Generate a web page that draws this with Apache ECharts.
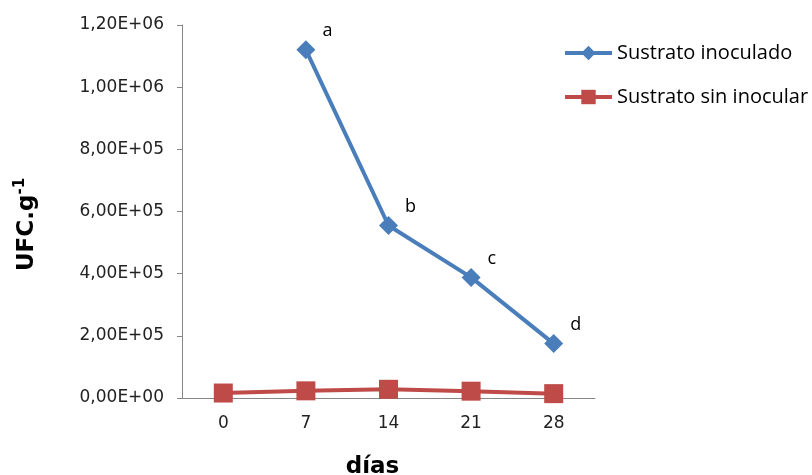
<!DOCTYPE html>
<html><head><meta charset="utf-8">
<script src="https://cdn.jsdelivr.net/npm/echarts@6/dist/echarts.min.js"></script>
<style>html,body{margin:0;padding:0;background:#fff}#c{width:812px;height:475px}</style>
</head><body><div id="c"></div>
<script>
const categories = ['0', '7', '14', '21', '28'];
const inoculado = [null, 1120000, 555000, 388000, 175000];
const sinInocular = [16000, 23000, 28000, 22000, 14000];
const letters = ['', 'a', 'b', 'c', 'd'];
const seriesNames = ['Sustrato inoculado', 'Sustrato sin inocular'];

function fmt(v) {
  if (v === 0) return '0,00E+00';
  const e = Math.floor(Math.log10(Math.abs(v)) + 1e-9);
  const m = v / Math.pow(10, e);
  return m.toFixed(2).replace('.', ',') + 'E+' + String(e).padStart(2, '0');
}

const chart = echarts.init(document.getElementById('c'));
chart.setOption({
  animation: false,
  grid: { left: 182, right: 217, top: 25, bottom: 77, outerBoundsMode: 'none', containLabel: false },
  legend: {
    orient: 'vertical', left: 563, top: 43, padding: 0, itemWidth: 47, itemHeight: 18, itemGap: 24,
    textStyle: { fontFamily: 'Open Sans', fontSize: 20, color: '#000' },
    lineStyle: { width: 4 },
    data: seriesNames
  },
  xAxis: {
    type: 'category', data: categories,
    name: 'días', nameLocation: 'middle', nameGap: 58,
    nameTextStyle: { fontFamily: 'DejaVu Sans', fontSize: 23, fontWeight: 'bold', color: '#000', padding: [0, 32, 0, 0] },
    axisLine: { lineStyle: { color: '#868686', width: 1 } },
    axisTick: { length: 5, lineStyle: { color: '#868686' } },
    axisLabel: { fontFamily: 'DejaVu Sans', fontSize: 17, color: '#222', margin: 17 }
  },
  yAxis: {
    type: 'value', min: 0, max: 1200000, interval: 200000,
    name: '{b|UFC.g}{s|-1}', nameLocation: 'middle', nameGap: 141,
    nameTextStyle: { padding: [0, 26, 0, 0], rich: {
      b: { fontFamily: 'DejaVu Sans', fontSize: 23, fontWeight: 'bold', color: '#000' },
      s: { fontFamily: 'DejaVu Sans', fontSize: 15, fontWeight: 'bold', color: '#000', padding: [0, 0, 13, 0] }
    } },
    axisLine: { show: true, lineStyle: { color: '#868686', width: 1 } },
    axisTick: { show: true, length: 5, lineStyle: { color: '#868686' } },
    splitLine: { show: false },
    axisLabel: { fontFamily: 'DejaVu Sans', fontSize: 17, color: '#222', margin: 18, formatter: fmt }
  },
  series: [
    {
      name: seriesNames[0], type: 'line', data: inoculado,
      symbol: 'diamond', symbolSize: 19,
      lineStyle: { color: '#4a7ebb', width: 4 },
      itemStyle: { color: '#4a7ebb' },
      label: {
        show: true, position: 'right', offset: [2, -19],
        formatter: p => letters[p.dataIndex],
        fontFamily: 'Open Sans', fontSize: 18, color: '#000'
      }
    },
    {
      name: seriesNames[1], type: 'line', data: sinInocular,
      symbol: 'rect', symbolSize: 19,
      lineStyle: { color: '#be4b48', width: 4 },
      itemStyle: { color: '#be4b48' }
    }
  ]
});
</script></body></html>
